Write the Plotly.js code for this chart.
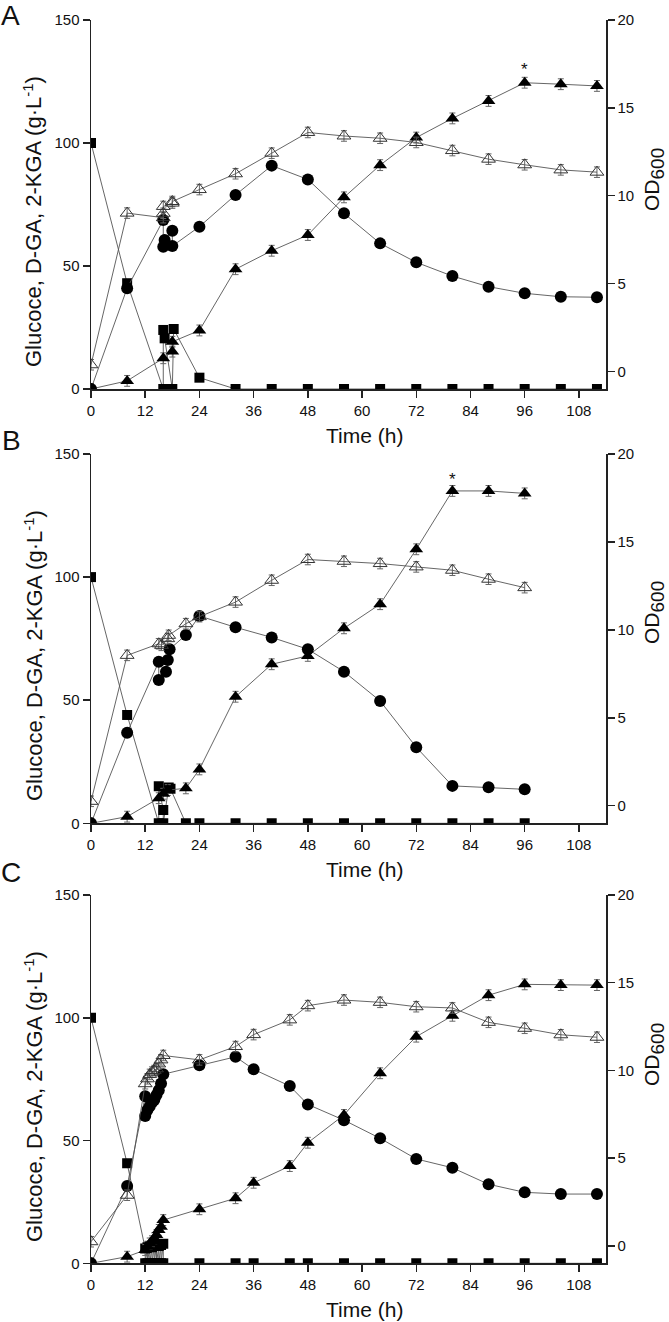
<!DOCTYPE html>
<html>
<head>
<meta charset="utf-8">
<script src="https://cdn.plot.ly/plotly-3.0.1.min.js"></script>
<style>html,body{margin:0;padding:0;background:#fff;}#chart{width:669px;height:1322px;}</style>
</head>
<body>
<div id="chart"></div>
<script>
// ---------- Panel A ----------
const tGluA = [0, 8, 16, 16, 16.3, 18, 18.3, 24, 32, 40, 48, 56, 64, 72, 80, 88, 96, 104, 112];
const gluA  = [100, 43, 0, 24, 20.6, 0, 24.4, 4.6, 0, 0, 0, 0, 0, 0, 0, 0, 0, 0, 0];
const tDgaA = [0, 8, 16, 16, 16.3, 18, 18, 24, 32, 40, 48, 56, 64, 72, 80, 88, 96, 104, 112];
const dgaA  = [0, 41, 68.7, 57.8, 60.6, 64.3, 58.1, 66, 78.9, 90.8, 85.2, 71.4, 59.2, 51.5, 45.9, 41.6, 38.9, 37.5, 37.3];
const tKgaA = [0, 8, 16, 18, 18, 24, 32, 40, 48, 56, 64, 72, 80, 88, 96, 104, 112];
const kgaA  = [0, 3.3, 12.5, 15.2, 19.2, 23.8, 48.7, 56.2, 62.6, 77.9, 91, 102.2, 110, 117.1, 124.5, 123.9, 123.2];
const tOdA  = [0, 8, 16, 16, 16, 18, 18, 24, 32, 40, 48, 56, 64, 72, 80, 88, 96, 104, 112];
const odA   = [0.38, 9.01, 8.75, 9.0, 9.39, 9.58, 9.67, 10.35, 11.25, 12.42, 13.6, 13.4, 13.27, 13.03, 12.57, 12.08, 11.76, 11.47, 11.34];

// ---------- Panel B ----------
const tGluB = [0, 8, 15, 15, 16, 16, 17.2, 17.6, 21, 24, 32, 40, 48, 56, 64, 72, 80, 88, 96];
const gluB  = [100, 44, 0, 15, 5.4, 0, 14.5, 14, 0, 0, 0, 0, 0, 0, 0, 0, 0, 0, 0];
const tDgaB = [0, 8, 15, 15, 16.6, 17, 17.4, 21, 24, 32, 40, 48, 56, 64, 72, 80, 88, 96];
const dgaB  = [0, 36.8, 65.6, 58.2, 61.6, 66.3, 70.7, 76.5, 84.2, 79.6, 75.5, 70.7, 61.6, 49.7, 30.9, 15.2, 14.6, 13.8];
const tKgaB = [0, 8, 15, 16, 17, 21, 24, 32, 40, 48, 56, 64, 72, 80, 88, 96];
const kgaB  = [0, 2.7, 10.2, 12, 13.5, 14.2, 21.9, 51.4, 64.6, 68, 79.2, 89, 111.3, 135, 135, 134];
const tOdB  = [0, 8, 15, 15.6, 17, 17.2, 21, 24, 32, 40, 48, 56, 64, 72, 80, 88, 96];
const odB   = [0.25, 8.55, 9.21, 9.12, 9.5, 9.69, 10.35, 10.75, 11.58, 12.82, 14.0, 13.9, 13.77, 13.58, 13.39, 12.88, 12.4];

// ---------- Panel C ----------
const tGluC = [0, 8, 12, 12, 12.5, 12.5, 13, 13, 13.5, 13.5, 14, 14, 14.5, 14.5, 15, 15, 15.5, 15.5, 16, 16, 24, 32, 36, 44, 48, 56, 64, 72, 80, 88, 96, 104, 112];
const gluC  = [100, 40.7, 6, 0, 6.5, 0, 7, 0, 6.5, 0, 7, 0, 7.5, 0, 7, 0, 7.5, 0, 8, 0, 0, 0, 0, 0, 0, 0, 0, 0, 0, 0, 0, 0, 0];
const tDgaC = [0, 8, 12, 12, 12.5, 13, 13.5, 14, 14.5, 15, 15.5, 16, 24, 32, 36, 44, 48, 56, 64, 72, 80, 88, 96, 104, 112];
const dgaC  = [0, 31.5, 68, 60, 62.4, 64, 65.5, 66.5, 68.5, 70.5, 73.2, 77, 80.7, 84.1, 79, 72.2, 64.7, 58.3, 50.9, 42.5, 38.9, 32.2, 28.9, 28.2, 28.2];
const tKgaC = [0, 8, 12, 12.5, 13, 13.5, 14, 14.5, 15, 15.5, 16, 24, 32, 36, 44, 48, 56, 64, 72, 80, 88, 96, 104, 112];
const kgaC  = [0, 2.7, 5.4, 6.8, 8.1, 9, 10.2, 11.5, 13.6, 14.9, 17.6, 22, 26.5, 32.8, 39.6, 49.1, 60.4, 77.4, 92.3, 100.8, 109.2, 113.6, 113.3, 113.3];
const tOdC  = [0, 8, 12, 12.5, 13, 13.5, 14, 14.5, 15, 15.5, 16, 24, 32, 36, 44, 48, 56, 64, 72, 80, 88, 96, 104, 112];
const odC   = [0.23, 2.88, 9.24, 9.52, 9.77, 9.9, 9.99, 10.09, 10.37, 10.6, 10.85, 10.6, 11.36, 12.04, 12.88, 13.69, 14.01, 13.88, 13.63, 13.56, 12.74, 12.4, 12.03, 11.89];

const xTicks = [0, 12, 24, 36, 48, 60, 72, 84, 96, 108];
const leftTicks = [0, 50, 100, 150];
const rightTicks = [0, 5, 10, 15, 20];
const panelLabels = ['A', 'B', 'C'];

const FONT = 'Liberation Sans, Arial, Helvetica, sans-serif';
const LINE = {color: '#555', width: 0.9};

function series(x, y, xa, ya, marker, err) {
  return {
    x: x, y: y, xaxis: xa, yaxis: ya, type: 'scatter', mode: 'lines+markers',
    line: LINE, marker: marker, showlegend: false, hoverinfo: 'skip',
    error_y: {type: 'constant', value: err, color: '#666', thickness: 1, width: 3}
  };
}
const mSquare = {symbol: 'square', size: 10, color: '#000'};
const mCircle = {symbol: 'circle', size: 12, color: '#000'};
const mTri = {symbol: 'triangle-up', size: 12, color: '#000'};
const mOpen = {symbol: 'triangle-up-open', size: 12, color: '#333', line: {width: 1, color: '#333'}};

const data = [
  series(tGluA, gluA, 'x', 'y', mSquare, 1),
  series(tKgaA, kgaA, 'x', 'y', mTri, 2.2),
  series(tDgaA, dgaA, 'x', 'y', mCircle, 1),
  series(tOdA, odA, 'x', 'y2', mOpen, 0.3),
  series(tGluB, gluB, 'x2', 'y3', mSquare, 1),
  series(tKgaB, kgaB, 'x2', 'y3', mTri, 2.2),
  series(tDgaB, dgaB, 'x2', 'y3', mCircle, 1),
  series(tOdB, odB, 'x2', 'y4', mOpen, 0.3),
  series(tGluC, gluC, 'x3', 'y5', mSquare, 1),
  series(tKgaC, kgaC, 'x3', 'y5', mTri, 2.2),
  series(tDgaC, dgaC, 'x3', 'y5', mCircle, 1),
  series(tOdC, odC, 'x3', 'y6', mOpen, 0.3)
];

const H = 1322, L = 91, R = 606;
const py = p => 1 - p / H;
const px = p => (p - L) / (R - L);

const axCommon = {
  showline: true, linecolor: '#222', linewidth: 1.5, ticks: 'outside', ticklen: 7, tickwidth: 1.5,
  tickcolor: '#222', showgrid: false, zeroline: false, tickfont: {family: FONT, size: 15, color: '#111'},
  fixedrange: true
};
function xax(anchor) {
  return Object.assign({}, axCommon, {anchor: anchor, range: [0, 114], tickmode: 'array', tickvals: xTicks, domain: [0, 1]});
}
function yl(dom, xanchor) {
  return Object.assign({}, axCommon, {anchor: xanchor, domain: dom, range: [0, 150], tickmode: 'array', tickvals: leftTicks});
}
function yr(over, xanchor) {
  return Object.assign({}, axCommon, {overlaying: over, side: 'right', anchor: xanchor, range: [-1, 20], tickmode: 'array', tickvals: rightTicks});
}

const domA = [py(389), py(20)];
const domB = [py(823.3), py(454)];
const domC = [py(1263.3), py(895)];

const xTitle = 'Time (h)';
const yTitle = 'Glucoce, D-GA, 2-KGA (g·L<span style="font-size:15px;baseline-shift:8px">-1</span>)';
const odTitle = 'OD<span style="font-size:19px;baseline-shift:-5px">600</span>';

function ann(text, x, y, size, angle) {
  const a = {text: text, xref: 'paper', yref: 'paper', x: x, y: y, xanchor: 'center', yanchor: 'middle',
    showarrow: false, font: {family: FONT, size: size, color: '#111'}};
  if (angle) a.textangle = angle;
  return a;
}
const letterPos = [[10, 15], [11, 441], [11, 872]];
const xTitleY = [435, 869, 1309];
const yTitleY = [222, 656, 1097];
const odTitleY = [180, 613, 1055];

const annotations = [];
for (let i = 0; i < 3; i++) {
  annotations.push(ann(panelLabels[i], px(letterPos[i][0]), py(letterPos[i][1]), 28));
  annotations.push(ann(xTitle, px(364), py(xTitleY[i]), 21));
  annotations.push(ann(yTitle, px(33), py(yTitleY[i]), 22, -90));
  annotations.push(ann(odTitle, px(654), py(odTitleY[i]), 21, -90));
}
annotations.push({text: '*', xref: 'x', yref: 'y', x: 96, y: 130, showarrow: false, font: {family: FONT, size: 17, color: '#111'}});
annotations.push({text: '*', xref: 'x2', yref: 'y3', x: 80, y: 139.5, showarrow: false, font: {family: FONT, size: 17, color: '#111'}});

const layout = {
  width: 669, height: 1322,
  margin: {l: L, r: 669 - R, t: 0, b: 0},
  paper_bgcolor: '#fff', plot_bgcolor: 'rgba(0,0,0,0)',
  font: {family: FONT, color: '#111'},
  showlegend: false,
  xaxis: xax('y'), yaxis: yl(domA, 'x'), yaxis2: yr('y', 'x'),
  xaxis2: xax('y3'), yaxis3: yl(domB, 'x2'), yaxis4: yr('y3', 'x2'),
  xaxis3: xax('y5'), yaxis5: yl(domC, 'x3'), yaxis6: yr('y5', 'x3'),
  annotations: annotations
};

Plotly.newPlot('chart', data, layout, {displayModeBar: false, staticPlot: true});
</script>
</body>
</html>
